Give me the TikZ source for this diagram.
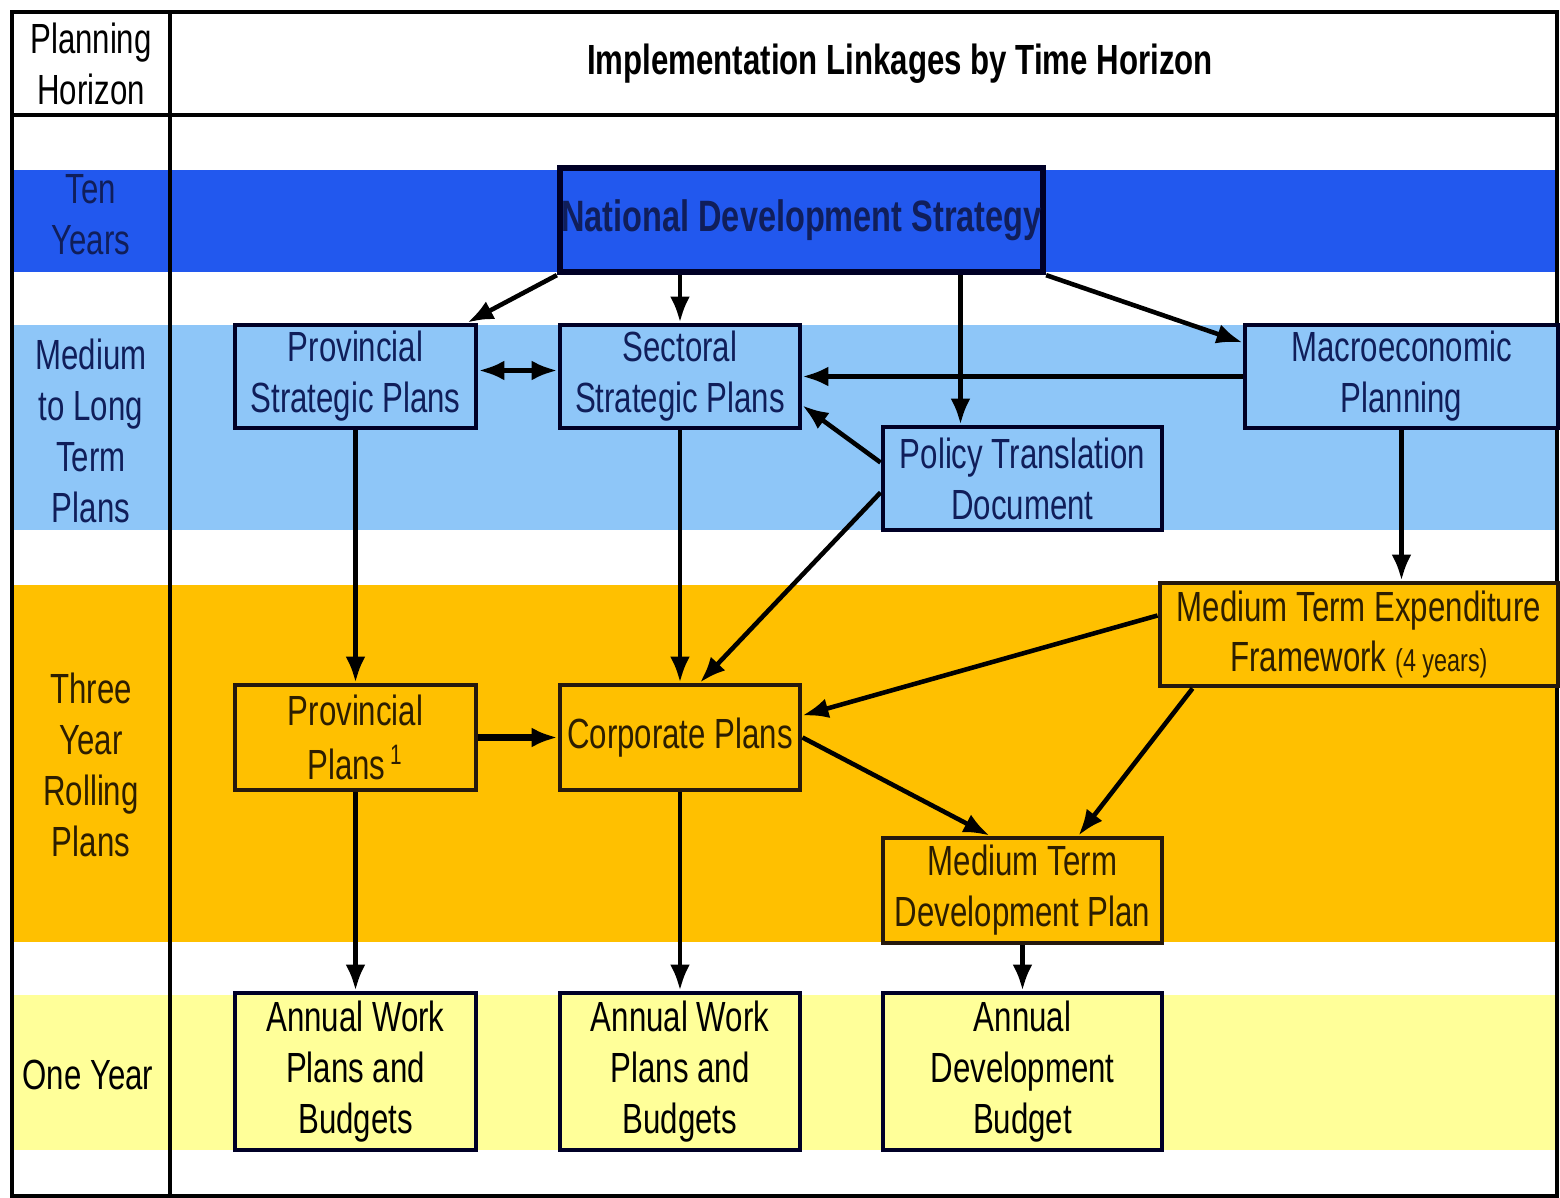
\documentclass[tikz,border=0pt]{standalone}
\usepackage{fontspec}
\setmainfont[FakeStretch=0.74]{Liberation Sans}
\usetikzlibrary{arrows.meta}

\definecolor{tenblue}{RGB}{34,88,238}
\definecolor{medblue}{RGB}{142,198,248}
\definecolor{rollgold}{RGB}{255,192,0}
\definecolor{oneyellow}{RGB}{255,255,153}
\definecolor{navytext}{RGB}{16,30,90}
\definecolor{browntext}{RGB}{45,30,0}

\begin{document}
\begin{tikzpicture}[x=0.1mm,y=-0.1mm,font=\fontsize{12}{14.5}\selectfont,
    plan/.style={draw=black!85!blue,line width=1.4pt,inner sep=0pt,align=center},
    longplan/.style={plan,fill=medblue,text=navytext},
    rollplan/.style={plan,fill=rollgold,text=browntext,draw=black!80!brown},
    yearplan/.style={plan,fill=oneyellow,text=black},
    arr/.style={-{Latex[length=2.6mm,width=2mm]},line width=1.3pt}]
                \useasboundingbox (0,0) rectangle (1560,1198);

                % horizon bands
                \fill[tenblue]   (12,170) rectangle (1557,272);
                \fill[medblue]   (12,325) rectangle (1557,530);
                \fill[rollgold]  (12,585) rectangle (1557,942);
                \fill[oneyellow] (12,995) rectangle (1557,1150);

                % table frame
                \draw[line width=1pt] (12,12) rectangle (1557,1196);
                \draw[line width=1pt] (12,115) -- (1557,115);
                \draw[line width=1pt] (170,12) -- (170,1196);

                \node (hor) at (91,64)[align=center]{Planning\\Horizon};
                \node (title) at (900,64)[font=\fontsize{12}{14}\selectfont\bfseries]{Implementation Linkages by Time Horizon};

                \node (ten) at (91,215)[align=center,text=navytext]{Ten\\Years};
                \node (medlong) at (91,431)[align=center,text=navytext]{Medium\\to Long\\Term\\Plans};
                \node (three) at (91,765)[align=center,text=browntext]{Three\\Year\\Rolling\\Plans};
                \node (one) at (88,1075){One Year};

                % plans
                \node (nds) at (801.5,220)[plan,fill=tenblue,text=navytext,line width=1.8pt,minimum width=48.3mm,minimum height=10.4mm,font=\fontsize{12.5}{14}\selectfont\bfseries]{National Development Strategy};
                \node (psp) at (355.5,376.5)[longplan,minimum width=24.1mm,minimum height=10.3mm]{Provincial\\Strategic Plans};
                \node (ssp) at (680,376.5)[longplan,minimum width=24mm,minimum height=10.3mm]{Sectoral\\Strategic Plans};
                \node (mp) at (1401.5,376.5)[longplan,minimum width=31.3mm,minimum height=10.3mm]{Macroeconomic\\Planning};
                \node (ptd) at (1022.5,478.5)[longplan,minimum width=27.9mm,minimum height=10.3mm]{Policy Translation\\Document};

                \node (mtef) at (1359,634.5)[rollplan,minimum width=39.8mm,minimum height=10.3mm]{Medium Term Expenditure\\Framework {\fontsize{9}{10}\selectfont(4 years)}};
                \node (pp) at (355.5,737.5)[rollplan,minimum width=24.1mm,minimum height=10.5mm]{Provincial\\[1pt]Plans\textsuperscript{\,1}};
                \node (cp) at (680,737.5)[rollplan,minimum width=24mm,minimum height=10.5mm]{Corporate Plans};
                \node (mtdp) at (1022.5,890.5)[rollplan,minimum width=27.9mm,minimum height=10.5mm]{Medium Term\\Development Plan};

                \node (awp1) at (355.5,1071.5)[yearplan,minimum width=24.1mm,minimum height=15.7mm]{Annual Work\\Plans and\\Budgets};
                \node (awp2) at (680,1071.5)[yearplan,minimum width=24mm,minimum height=15.7mm]{Annual Work\\Plans and\\Budgets};
                \node (adb) at (1022.5,1071.5)[yearplan,minimum width=27.9mm,minimum height=15.7mm]{Annual\\Development\\Budget};

                % linkages
                \draw[arr] (nds.south west) -- ([xshift=-1.1mm]psp.north east);
                \draw[arr] (ssp.north |- nds.south) -- (ssp.north);
                \draw[arr] ([xshift=-6.2mm]ptd.north |- nds.south) -- ([xshift=-6.2mm]ptd.north);
                \draw[arr] (nds.south east) -- ([yshift=-2mm]mp.north west);
                \draw[{Latex[length=2.6mm,width=2mm]}-{Latex[length=2.6mm,width=2mm]},line width=1.6pt] ([yshift=0.6mm]psp.east) -- ([yshift=0.6mm]ssp.west);
                \draw[arr] (mp.west) -- (ssp.east);
                \draw[arr] ([yshift=1.6mm]ptd.west) -- ([yshift=-2.9mm]ssp.east);
                \draw[arr] ([yshift=-1.4mm]ptd.west) -- ([xshift=2mm]cp.north);
                \draw[arr] (psp.south) -- (pp.north);
                \draw[arr] (ssp.south) -- (cp.north);
                \draw[arr] (mp.south) -- (mp.south |- mtef.north);
                \draw[arr] ([yshift=1.9mm]mtef.west) -- ([yshift=2.2mm]cp.east);
                \draw[arr] ([xshift=3.5mm]mtef.south west) -- ([xshift=5.6mm]mtdp.north);
                \draw[arr] (cp.east) -- ([xshift=-3.3mm]mtdp.north);
                \draw[arr,line width=2.2pt] (pp.east) -- (cp.west);
                \draw[arr] (pp.south) -- (awp1.north);
                \draw[arr] (cp.south) -- (awp2.north);
                \draw[arr] (mtdp.south) -- (adb.north);
            \end{tikzpicture}
\end{document}
